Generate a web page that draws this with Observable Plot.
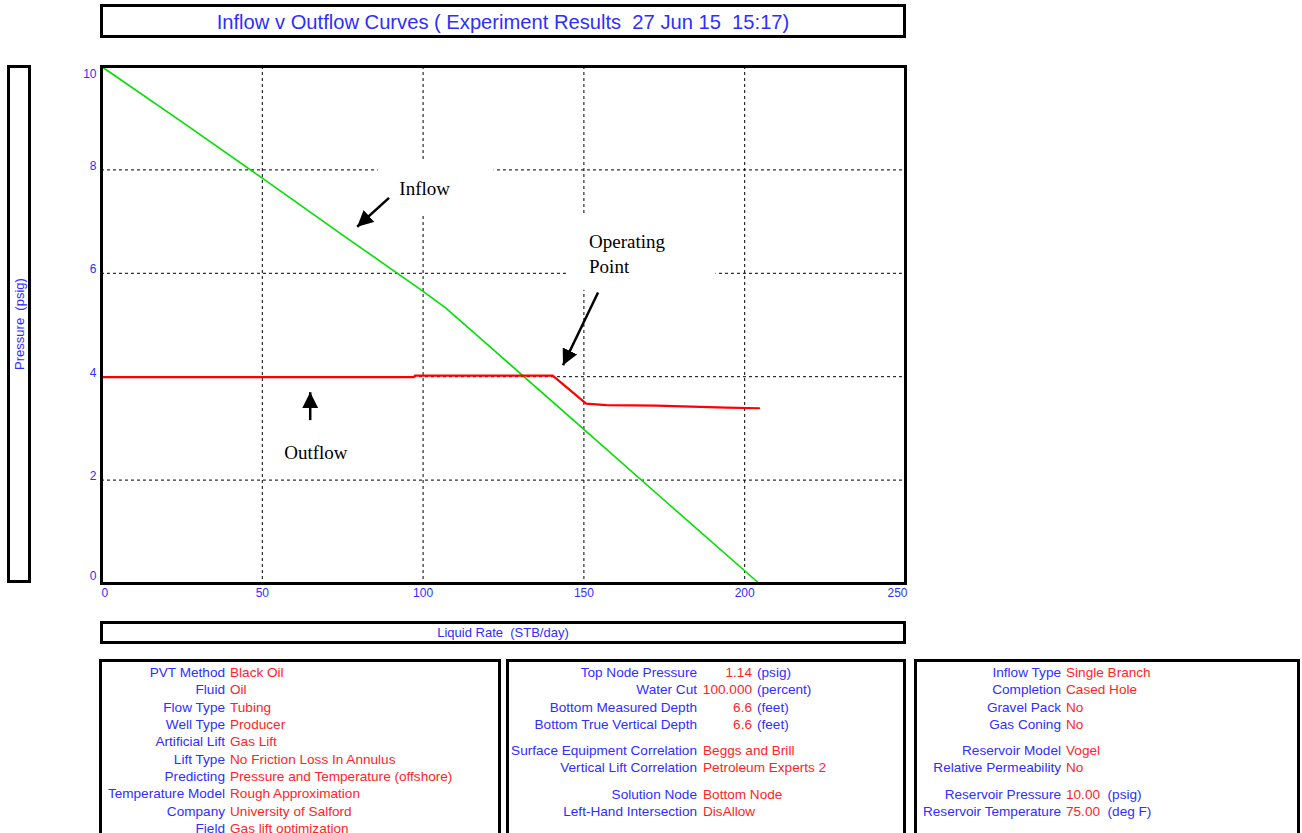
<!DOCTYPE html>
<html>
<head>
<meta charset="utf-8">
<script src="https://cdn.jsdelivr.net/npm/d3@7"></script>
<script src="https://cdn.jsdelivr.net/npm/@observablehq/plot@0.6"></script>
<style>
  html, body { margin: 0; padding: 0; background: #fff; }
  #page { position: relative; width: 1302px; height: 833px; overflow: hidden; font-family: "Liberation Sans", Arial, sans-serif; }
  .box { position: absolute; box-sizing: border-box; border: 3px solid #000; background: #fff; }
  .blue { color: #2e2eff; }
  .red { color: #ff2424; }
  .row { position: absolute; font-size: 13.6px; line-height: 18px; white-space: pre; }
</style>
</head>
<body>
<div id="page"></div>
<script>
// ---------- data ----------
const titleText = "Inflow v Outflow Curves ( Experiment Results  27 Jun 15  15:17)";
const xAxisTitle = "Liquid Rate  (STB/day)";
const yAxisTitle = "Pressure  (psig)";

const xTicks = [0, 50, 100, 150, 200, 250];
const yTicks = [0, 2, 4, 6, 8, 10];

// Inflow (IPR) curve
const inflowRate     = [0, 25, 50, 75, 100, 107, 125, 150, 175, 204.5];
const inflowPressure = [10, 8.93, 7.84, 6.74, 5.65, 5.33, 4.35, 2.98, 1.61, 0];

// Outflow (VLP) curve
const outflowRate     = [0, 97, 97.5, 140.3, 150.7, 157, 172.5, 183.4, 194.3, 204.5];
const outflowPressure = [3.99, 3.99, 4.02, 4.02, 3.48, 3.45, 3.44, 3.42, 3.40, 3.39];

// Annotations
const annoLabels = ["Inflow", "Operating", "Point", "Outflow"];
const annoX      = [92.6, 151.6, 151.6, 56.8];
const annoY      = [7.63, 6.60, 6.12, 2.52];

const arrowX1 = [89.4, 154.4, 64.9];
const arrowY1 = [7.46, 5.63, 3.16];
const arrowX2 = [79.5, 143.5, 64.9];
const arrowY2 = [6.90, 4.22, 3.70];

// white label backgrounds (break the grid like the original)
const maskX1 = [86, 145.1];
const maskX2 = [122.1, 191.1];
const maskY1 = [7.11, 5.67];
const maskY2 = [8.19, 7.15];

// Info panels
const panel1Labels = ["PVT Method", "Fluid", "Flow Type", "Well Type", "Artificial Lift", "Lift Type", "Predicting", "Temperature Model", "Company", "Field"];
const panel1Values = ["Black Oil", "Oil", "Tubing", "Producer", "Gas Lift", "No Friction Loss In Annulus", "Pressure and Temperature (offshore)", "Rough Approximation", "University of Salford", "Gas lift optimization"];

const panel2Labels = ["Top Node Pressure", "Water Cut", "Bottom Measured Depth", "Bottom True Vertical Depth", "Surface Equipment Correlation", "Vertical Lift Correlation", "Solution Node", "Left-Hand Intersection"];
const panel2Numbers = ["1.14", "100.000", "6.6", "6.6", "", "", "", ""];
const panel2Units   = ["(psig)", "(percent)", "(feet)", "(feet)", "", "", "", ""];
const panel2Text    = ["", "", "", "", "Beggs and Brill", "Petroleum Experts 2", "Bottom Node", "DisAllow"];
const panel2Group   = [0, 0, 0, 0, 1, 1, 2, 2];

const panel3Labels = ["Inflow Type", "Completion", "Gravel Pack", "Gas Coning", "Reservoir Model", "Relative Permeability", "Reservoir Pressure", "Reservoir Temperature"];
const panel3Values = ["Single Branch", "Cased Hole", "No", "No", "Vogel", "No", "10.00", "75.00"];
const panel3Units  = ["", "", "", "", "", "", "(psig)", "(deg F)"];
const panel3Group  = [0, 0, 0, 0, 1, 1, 2, 2];

// ---------- build ----------
const BLUE = "#2e2eff", RED = "#ff2424";
const page = document.getElementById("page");

function div(cls, style, text) {
  const d = document.createElement("div");
  if (cls) d.className = cls;
  Object.assign(d.style, style);
  if (text != null) d.textContent = text;
  page.appendChild(d);
  return d;
}

// Title box
const tb = div("box", {left: "100px", top: "4px", width: "806px", height: "34px"});
const tt = document.createElement("div");
Object.assign(tt.style, {position: "absolute", left: "0", right: "0", top: "3px", textAlign: "center", fontSize: "21px", color: BLUE, whiteSpace: "pre", transform: "scaleX(0.96)", transformOrigin: "50% 50%"});
tt.textContent = titleText;
tb.appendChild(tt);

// Y axis title box
const yb = div("box", {left: "7px", top: "65px", width: "24px", height: "518px"});
const yt = document.createElement("div");
Object.assign(yt.style, {position: "absolute", left: "50%", top: "50%", transform: "translate(-50%,-50%) rotate(-90deg)", fontSize: "13px", color: BLUE, whiteSpace: "pre"});
yt.textContent = yAxisTitle;
yb.appendChild(yt);

// X axis title box
const xb = div("box", {left: "100px", top: "621px", width: "806px", height: "23px"});
const xt = document.createElement("div");
Object.assign(xt.style, {position: "absolute", left: "0", right: "0", top: "1px", textAlign: "center", fontSize: "13px", color: BLUE, whiteSpace: "pre"});
xt.textContent = xAxisTitle;
xb.appendChild(xt);

// custom filled-triangle arrow marker
function triMarker(color, context) {
  const doc = (context && context.document) || document;
  const ns = "http://www.w3.org/2000/svg";
  const m = doc.createElementNS(ns, "marker");
  m.setAttribute("viewBox", "-10 -5 10 10");
  m.setAttribute("markerUnits", "userSpaceOnUse");
  m.setAttribute("markerWidth", "16");
  m.setAttribute("markerHeight", "16");
  m.setAttribute("refX", "0");
  m.setAttribute("refY", "0");
  m.setAttribute("orient", "auto");
  const p = doc.createElementNS(ns, "path");
  p.setAttribute("d", "M-10,-5L0,0L-10,5Z");
  p.setAttribute("fill", "#000");
  p.setAttribute("stroke", "none");
  m.appendChild(p);
  return m;
}

const inflow = inflowRate.map((x, i) => ({x, y: inflowPressure[i]}));
const outflow = outflowRate.map((x, i) => ({x, y: outflowPressure[i]}));
const annos = annoLabels.map((t, i) => ({t, x: annoX[i], y: annoY[i]}));
const arrows = arrowX1.map((x1, i) => ({x1, y1: arrowY1[i], x2: arrowX2[i], y2: arrowY2[i]}));
const masks = maskX1.map((x1, i) => ({x1, x2: maskX2[i], y1: maskY1[i], y2: maskY2[i]}));

const fmt = d => String(d);
const axisStyle = {tickSize: 0, fill: BLUE, fontSize: 12, label: null, tickFormat: fmt};

const chart = Plot.plot({
  width: 920,
  height: 610,
  marginLeft: 101,
  marginRight: 15,
  marginTop: 66,
  marginBottom: 27,
  style: {fontFamily: "Liberation Sans, Arial, sans-serif", fontSize: "12px", background: "transparent", overflow: "visible"},
  x: {domain: [0, 250]},
  y: {domain: [0, 10]},
  marks: [
    Plot.gridX(xTicks.slice(1, -1), {stroke: "#000", strokeOpacity: 1, strokeWidth: 1, strokeDasharray: "3,3"}),
    Plot.gridY(yTicks.slice(1, -1), {stroke: "#000", strokeOpacity: 1, strokeWidth: 1, strokeDasharray: "3,3"}),
    Plot.rect(masks, {x1: "x1", x2: "x2", y1: "y1", y2: "y2", fill: "#fff"}),
    Plot.line(inflow, {x: "x", y: "y", stroke: "#00e000", strokeWidth: 1.6}),
    Plot.line(outflow, {x: "x", y: "y", stroke: "#ff0000", strokeWidth: 2.2}),
    Plot.link(arrows, {x1: "x1", y1: "y1", x2: "x2", y2: "y2", stroke: "#000", strokeWidth: 2.5, markerEnd: triMarker}),
    Plot.text(annos, {x: "x", y: "y", text: "t", textAnchor: "start", fontFamily: "Liberation Serif, Times New Roman, serif", fontSize: 19, fill: "#000"}),
    Plot.axisX(xTicks.slice(1, -1), {...axisStyle, tickPadding: 5}),
    Plot.axisX([xTicks[0]], {...axisStyle, tickPadding: 5, textAnchor: "start"}),
    Plot.axisX([xTicks[xTicks.length - 1]], {...axisStyle, tickPadding: 5, textAnchor: "end", dx: 2}),
    Plot.axisY(yTicks.slice(1, -1), {...axisStyle, tickPadding: 5, dy: -4}),
    Plot.axisY([yTicks[0]], {...axisStyle, tickPadding: 5, dy: -7}),
    Plot.axisY([yTicks[yTicks.length - 1]], {...axisStyle, tickPadding: 5, dy: 8}),
    Plot.frame({stroke: "#000", strokeWidth: 3})
  ]
});
chart.style.position = "absolute";
chart.style.left = "0px";
chart.style.top = "0px";
page.appendChild(chart);

// Panels
div("box", {left: "99px", top: "659px", width: "402px", height: "200px"});
div("box", {left: "506px", top: "659px", width: "400px", height: "200px"});
div("box", {left: "914px", top: "659px", width: "386px", height: "200px"});

const rowStep = 17.35;
function rowTop(i, group) {
  // groups separated by an extra gap
  return 673 + i * rowStep + (group || 0) * 8.7 - 9;
}

panel1Labels.forEach((lab, i) => {
  div("row blue", {left: "0px", width: "225px", textAlign: "right", top: rowTop(i, 0) + "px"}, lab);
  div("row red", {left: "230px", top: rowTop(i, 0) + "px"}, panel1Values[i]);
});

panel2Labels.forEach((lab, i) => {
  const t = rowTop(i, panel2Group[i]) + "px";
  div("row blue", {left: "300px", width: "397px", textAlign: "right", top: t}, lab);
  if (panel2Numbers[i]) {
    div("row red", {left: "652px", width: "100px", textAlign: "right", top: t}, panel2Numbers[i]);
    div("row blue", {left: "757px", top: t}, panel2Units[i]);
  } else {
    div("row red", {left: "703px", top: t}, panel2Text[i]);
  }
});

panel3Labels.forEach((lab, i) => {
  const t = rowTop(i, panel3Group[i]) + "px";
  div("row blue", {left: "700px", width: "361px", textAlign: "right", top: t}, lab);
  const v = div("row red", {left: "1066px", top: t}, panel3Values[i]);
  if (panel3Units[i]) {
    const u = document.createElement("span");
    u.className = "blue";
    u.textContent = "  " + panel3Units[i];
    v.appendChild(u);
  }
});
</script>
</body>
</html>
